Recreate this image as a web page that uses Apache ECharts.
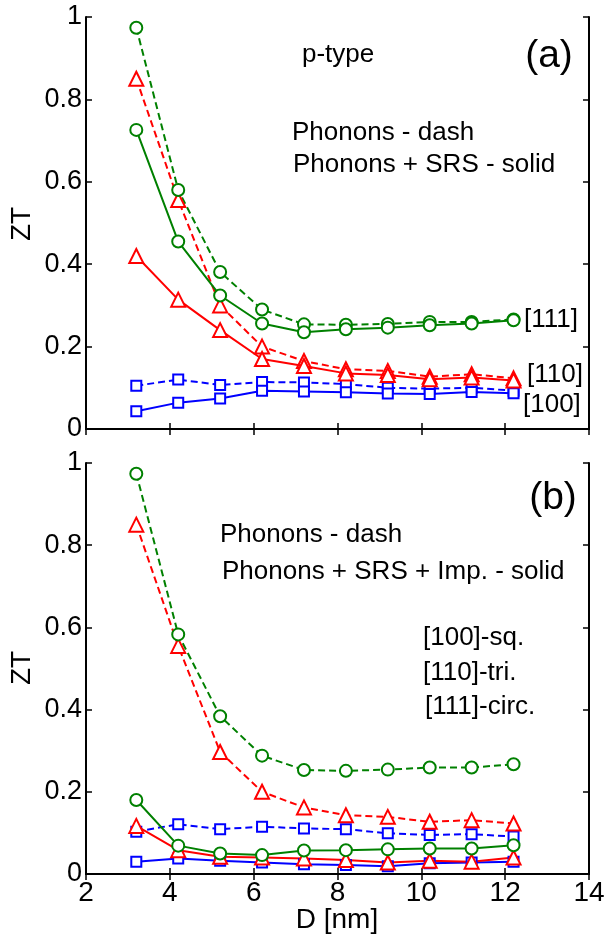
<!DOCTYPE html>
<html>
<head>
<meta charset="utf-8">
<script src="https://cdn.jsdelivr.net/npm/echarts@6/dist/echarts.min.js"></script>
<style>html,body{margin:0;padding:0;background:#fff}#c{width:608px;height:938px}</style>
</head>
<body>
<div id="c"></div>
<script>
var D = [3.2, 4.2, 5.2, 6.2, 7.2, 8.2, 9.2, 10.2, 11.2, 12.2];
var xTicks = [2, 4, 6, 8, 10, 12, 14];
var yTicks = [0, 0.2, 0.4, 0.6, 0.8, 1];

// Panel (a): p-type, phonons (dash) vs phonons + SRS (solid)
var a111Dash  = [0.974, 0.580, 0.381, 0.290, 0.254, 0.253, 0.255, 0.260, 0.260, 0.266];
var a111Solid = [0.726, 0.455, 0.324, 0.256, 0.235, 0.242, 0.246, 0.252, 0.256, 0.264];
var a110Dash  = [0.850, 0.556, 0.300, 0.200, 0.165, 0.145, 0.141, 0.127, 0.133, 0.123];
var a110Solid = [0.420, 0.314, 0.240, 0.170, 0.153, 0.135, 0.131, 0.121, 0.125, 0.118];
var a100Dash  = [0.105, 0.120, 0.107, 0.114, 0.113, 0.109, 0.100, 0.098, 0.100, 0.093];
var a100Solid = [0.043, 0.064, 0.074, 0.093, 0.091, 0.089, 0.086, 0.085, 0.090, 0.087];

// Panel (b): phonons (dash) vs phonons + SRS + Imp. (solid)
var b111Dash  = [0.974, 0.583, 0.384, 0.288, 0.253, 0.251, 0.254, 0.259, 0.259, 0.267];
var b110Dash  = [0.850, 0.555, 0.297, 0.200, 0.162, 0.143, 0.139, 0.127, 0.131, 0.123];
var b100Dash  = [0.103, 0.121, 0.109, 0.115, 0.111, 0.109, 0.099, 0.095, 0.097, 0.091];
var b111Solid = [0.180, 0.069, 0.050, 0.046, 0.057, 0.058, 0.060, 0.062, 0.062, 0.070];
var b110Solid = [0.117, 0.058, 0.042, 0.040, 0.038, 0.034, 0.028, 0.032, 0.030, 0.040];
var b100Solid = [0.030, 0.038, 0.032, 0.028, 0.024, 0.022, 0.019, 0.026, 0.028, 0.030];

var GREEN = '#008000', RED = '#ff0000', BLUE = '#0000ff';
var FONT = 'Liberation Sans, Arial, sans-serif';

function pts(arr) { return D.map(function (d, i) { return [d, arr[i]]; }); }

function ser(arr, color, dashed, sym, panel) {
  var size = sym === 'emptyCircle' ? 12 : (sym === 'emptyTriangle' ? 14 : 10);
  return {
    type: 'line', xAxisIndex: panel * 2, yAxisIndex: panel * 2,
    data: pts(arr), symbol: sym, symbolSize: size, showSymbol: true,
    lineStyle: { color: color, width: 2, type: dashed ? [7, 4] : 'solid' },
    itemStyle: { color: color, borderColor: color, borderWidth: 1.6 },
    z: dashed ? 3 : 4, animation: false
  };
}

var tickStyle = { show: true, inside: true, length: 6, lineStyle: { color: '#000', width: 1.5 } };
var lineStyleAx = { show: true, lineStyle: { color: '#000', width: 2 } };

function xAx(grid, pos, labels) {
  return {
    type: 'value', gridIndex: grid, position: pos, min: xTicks[0], max: xTicks[xTicks.length - 1], interval: 2,
    axisLine: lineStyleAx, axisTick: tickStyle, splitLine: { show: false },
    axisLabel: { show: labels, color: '#000', fontSize: 28, fontFamily: FONT, margin: 5 }
  };
}
function yAx(grid, pos, labels) {
  return {
    type: 'value', gridIndex: grid, position: pos, min: yTicks[0], max: yTicks[yTicks.length - 1], interval: 0.2,
    axisLine: lineStyleAx, axisTick: tickStyle, splitLine: { show: false },
    axisLabel: { show: labels, color: '#000', fontSize: 27, fontFamily: FONT, margin: 4 }
  };
}

function txt(x, y, s, size, align) {
  return { type: 'text', x: x, y: y, style: { text: s, fill: '#000', font: size + 'px ' + FONT, textAlign: align || 'left', textVerticalAlign: 'middle' } };
}

var chart = echarts.init(document.getElementById('c'), null, { renderer: 'canvas' });
chart.setOption({
  animation: false,
  backgroundColor: '#fff',
  grid: [
    { left: 86, top: 17, width: 503, height: 412 },
    { left: 86, top: 463, width: 503, height: 411 }
  ],
  xAxis: [xAx(0, 'bottom', false), xAx(0, 'top', false), xAx(1, 'bottom', true), xAx(1, 'top', false)],
  yAxis: [yAx(0, 'left', true), yAx(0, 'right', false), yAx(1, 'left', true), yAx(1, 'right', false)],
  series: [
    ser(a100Dash, BLUE, true, 'emptyRect', 0),
    ser(a100Solid, BLUE, false, 'emptyRect', 0),
    ser(a110Dash, RED, true, 'emptyTriangle', 0),
    ser(a110Solid, RED, false, 'emptyTriangle', 0),
    ser(a111Dash, GREEN, true, 'emptyCircle', 0),
    ser(a111Solid, GREEN, false, 'emptyCircle', 0),
    ser(b100Dash, BLUE, true, 'emptyRect', 1),
    ser(b110Dash, RED, true, 'emptyTriangle', 1),
    ser(b111Dash, GREEN, true, 'emptyCircle', 1),
    ser(b100Solid, BLUE, false, 'emptyRect', 1),
    ser(b110Solid, RED, false, 'emptyTriangle', 1),
    ser(b111Solid, GREEN, false, 'emptyCircle', 1)
  ],
  graphic: [
    txt(302, 55, 'p-type', 26),
    txt(549, 56, '(a)', 39, 'center'),
    txt(292, 133, 'Phonons - dash', 26),
    txt(293, 165, 'Phonons + SRS - solid', 26),
    txt(524, 320, '[111]', 26),
    txt(527, 375, '[110]', 26),
    txt(523, 405, '[100]', 26),
    txt(553, 498, '(b)', 39, 'center'),
    txt(220, 535, 'Phonons - dash', 26),
    txt(222, 572, 'Phonons + SRS + Imp. - solid', 26),
    txt(423, 638, '[100]-sq.', 26),
    txt(423, 673, '[110]-tri.', 26),
    txt(425, 707, '[111]-circ.', 26),
    { type: 'text', x: 22, y: 224, rotation: Math.PI / 2, style: { text: 'ZT', fill: '#000', font: '28px ' + FONT, textAlign: 'center', textVerticalAlign: 'middle' } },
    { type: 'text', x: 22, y: 668, rotation: Math.PI / 2, style: { text: 'ZT', fill: '#000', font: '28px ' + FONT, textAlign: 'center', textVerticalAlign: 'middle' } },
    txt(337, 920, 'D [nm]', 28, 'center')
  ]
});
</script>
</body>
</html>
